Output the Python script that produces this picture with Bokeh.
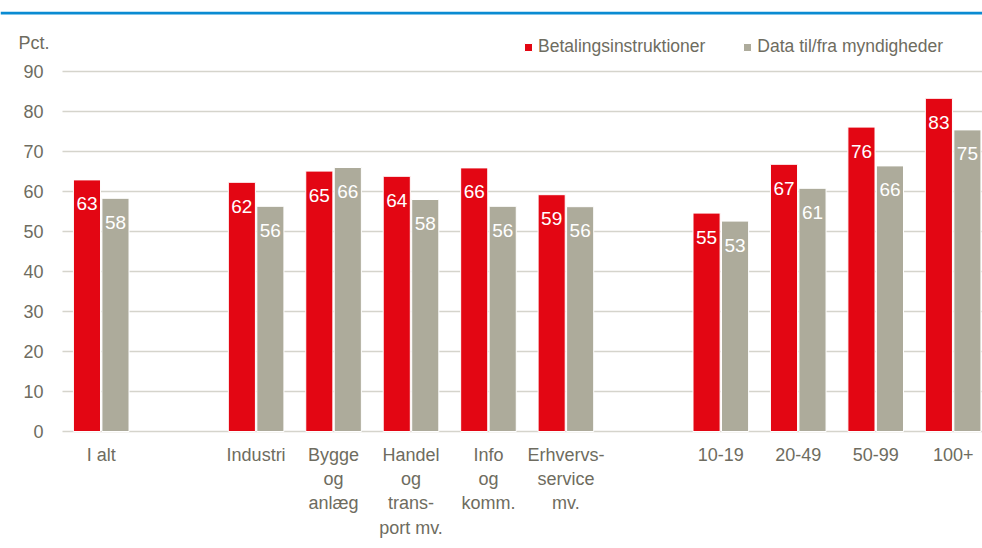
import numpy as np
from bokeh.plotting import figure
from bokeh.models import (Range1d, FixedTicker, Span, Legend, LegendItem,
                          ColumnDataSource, LabelSet, Label)
from bokeh.core.properties import value
from bokeh.embed import file_html
from bokeh.resources import INLINE

# ---------------- data ----------------
categories = ["I alt", "", "Industri", "Bygge\nog\nanlæg", "Handel\nog\ntrans-\nport mv.",
              "Info\nog\nkomm.", "Erhvervs-\nservice\nmv.", "", "10-19", "20-49", "50-99", "100+"]
betaling = [62.9, 62.3, 65.1, 63.8, 65.9, 59.2, 54.6, 66.8, 76.1, 83.3]
myndigheder = [58.3, 56.3, 66.0, 58.0, 56.3, 56.2, 52.6, 60.8, 66.4, 75.4]
series_names = ["Betalingsinstruktioner", "Data til/fra myndigheder"]
y_ticks = [0, 10, 20, 30, 40, 50, 60, 70, 80, 90]
y_unit = "Pct."

# ---------------- style ----------------
FONT = "Liberation Sans"
FS = "18px"
TEXT = "#6E6C60"
RED = "#E30613"
GREY = "#ADAB9B"
GRID = "#D5D4CC"
BLUE = "#0A8BD2"

pos = np.array([i for i, c in enumerate(categories) if c], dtype=float)
labels = [c for c in categories if c]

X0, X1 = -1.3005, 11.379
p = figure(frame_width=982, frame_height=430, output_backend="svg", toolbar_location=None,
           x_range=Range1d(X0, X1), y_range=Range1d(-2.5, 105),
           y_axis_location=None, min_border_left=0, min_border_right=0,
           min_border_top=11, min_border_bottom=0)
p.outline_line_color = None
p.grid.visible = False
p.background_fill_color = "white"
p.border_fill_color = "white"

# gridlines starting at the first category slot
n = len(y_ticks)
p.segment(x0=[-0.5] * n, x1=[X1] * n, y0=y_ticks, y1=y_ticks, line_color=GRID, line_width=1.5)

off = 0.184
w = 0.35
r1 = p.vbar(x=pos - off, top=betaling, width=w, fill_color=RED, line_color="white", line_width=1)
r2 = p.vbar(x=pos + off, top=myndigheder, width=w, fill_color=GREY, line_color="white", line_width=1)

p.text(x=pos - off, y=betaling, text=[f"{v:.0f}" for v in betaling], text_color="white",
       text_font=value(FONT), text_font_size="19px", text_align="center",
       text_baseline="middle", y_offset=24)
p.text(x=pos + off, y=myndigheder, text=[f"{v:.0f}" for v in myndigheder], text_color="white",
       text_font=value(FONT), text_font_size="19px", text_align="center",
       text_baseline="middle", y_offset=24)

# y tick labels
ysrc = ColumnDataSource(dict(x=[-0.5] * n, y=y_ticks, t=[str(t) for t in y_ticks]))
p.add_layout(LabelSet(x="x", y="y", text="t", source=ysrc, x_offset=-19,
                      text_align="right", text_baseline="middle", text_color=TEXT,
                      text_font=value(FONT), text_font_size=FS))
p.add_layout(Label(x=-0.5, y=97.1, text=y_unit, x_offset=-13,
                   text_align="right", text_baseline="middle", text_color=TEXT,
                   text_font=FONT, text_font_size=FS))

# x axis
ax = p.xaxis[0]
ax.ticker = FixedTicker(ticks=list(pos))
ax.major_label_overrides = {float(k): v for k, v in zip(pos, labels)}
ax.axis_line_color = None
ax.major_tick_line_color = None
ax.minor_tick_line_color = None
ax.major_tick_out = 0
ax.major_tick_in = 0
ax.major_label_text_font = FONT
ax.major_label_text_font_size = FS
ax.major_label_text_color = TEXT
ax.major_label_text_line_height = 1.22
ax.major_label_standoff = 3

# blue top rule
p.add_layout(Span(location=104.6, dimension="width", line_color=BLUE, line_width=3))

legend = Legend(items=[LegendItem(label=series_names[0], renderers=[r1]),
                       LegendItem(label=series_names[1], renderers=[r2])],
                orientation="horizontal", location=(523, 384), padding=0, margin=0,
                spacing=37, label_standoff=5, glyph_width=10, glyph_height=10,
                border_line_color=None, background_fill_alpha=0,
                label_text_font=FONT, label_text_font_size="17.5px", label_text_color=TEXT)
p.add_layout(legend)

open("out.html", "w").write(file_html(p, INLINE))
